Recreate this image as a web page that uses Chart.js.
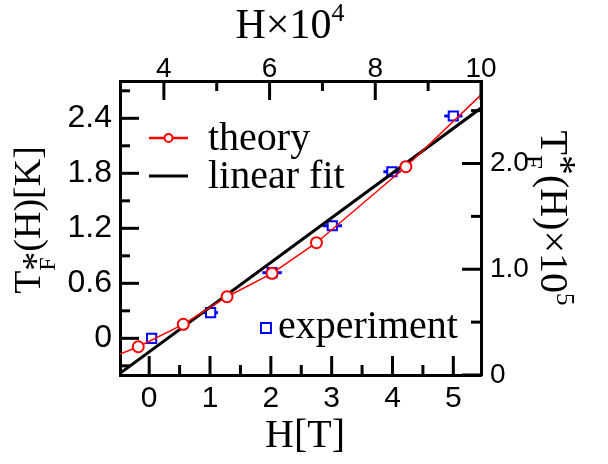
<!DOCTYPE html>
<html lang="en">
<head>
    <meta charset="UTF-8">
    <title>Fermi temperature vs field</title>
    <script src="https://cdn.jsdelivr.net/npm/chart.js"></script>
    <style>
        body { margin: 0; background: #fff; }
        #wrap { width: 608px; height: 464px; }
    </style>
</head>
<body>
<div id="wrap"><canvas id="tfChart" width="608" height="464"></canvas></div>
<script>
    // theory curve (red circles); first and last entries are the line ends without markers
    const theoryH = [-0.48, -0.18, 0.56, 1.28, 2.02, 2.75, 4.22, 5.455];
    const theoryT = [-0.171, -0.092, 0.153, 0.454, 0.709, 1.043, 1.872, 2.656];

    // linear fit (black)
    const fitH = [-0.48, 5.455];
    const fitT = [-0.382, 2.512];

    // experiment (blue squares) with horizontal error in H
    const expH = [0.04, 1.01, 2.02, 3.01, 3.99, 5.0];
    const expT = [0.0, 0.28, 0.716, 1.228, 1.817, 2.425];
    const expErr = [0.05, 0.12, 0.16, 0.16, 0.14, 0.15];

    // tick values
    const hTicks = [0, 1, 2, 3, 4, 5];
    const hMinor = [0.5, 1.5, 2.5, 3.5, 4.5];
    const tTicks = [0, 0.6, 1.2, 1.8, 2.4];
    const tMinor = [-0.3, 0.3, 0.9, 1.5, 2.1, 2.7];
    const t5Ticks = [0, 1.0, 2.0];
    const t5Minor = [0.5, 1.5, 2.5];
    const h4Ticks = [4, 6, 8, 10];
    const h4Minor = [5, 7, 9];

    const serif = '"Liberation Serif", "Times New Roman", serif';
    const sans = '"Liberation Sans", Arial, sans-serif';

    function fixTicks(values) {
        return scale => { scale.ticks = values.map(v => ({ value: v })); };
    }
    function fmt1(v) { return v === 0 ? '0' : v.toFixed(1); }

    // inward major/minor tick marks on all four sides
    const innerTicks = {
        id: 'innerTicks',
        afterDraw(chart) {
            const ctx = chart.ctx, a = chart.chartArea;
            const sets = [
                ['x', hTicks, hMinor, 'bottom'],
                ['x2', h4Ticks, h4Minor, 'top'],
                ['y', tTicks, tMinor, 'left'],
                ['y2', t5Ticks, t5Minor, 'right']
            ];
            ctx.save();
            ctx.strokeStyle = '#000';
            ctx.lineWidth = 3;
            sets.forEach(([id, major, minor, side]) => {
                const s = chart.scales[id];
                const draw = (v, len) => {
                    const p = s.getPixelForValue(v);
                    ctx.beginPath();
                    if (side === 'bottom') { ctx.moveTo(p, a.bottom); ctx.lineTo(p, a.bottom - len); }
                    if (side === 'top') { ctx.moveTo(p, a.top); ctx.lineTo(p, a.top + len); }
                    if (side === 'left') { ctx.moveTo(a.left, p); ctx.lineTo(a.left + len, p); }
                    if (side === 'right') { ctx.moveTo(a.right, p); ctx.lineTo(a.right - len, p); }
                    ctx.stroke();
                };
                major.forEach(v => draw(v, 19));
                minor.forEach(v => draw(v, 10));
            });
            ctx.restore();
        }
    };

    // horizontal error bars of the experiment points
    const errorBars = {
        id: 'errorBars',
        beforeDatasetsDraw(chart) {
            const ctx = chart.ctx, xs = chart.scales.x, ys = chart.scales.y;
            ctx.save();
            ctx.strokeStyle = '#0000ff';
            ctx.lineWidth = 3;
            expH.forEach((h, i) => {
                const y = ys.getPixelForValue(expT[i]);
                ctx.beginPath();
                ctx.moveTo(xs.getPixelForValue(h - expErr[i]), y);
                ctx.lineTo(xs.getPixelForValue(h + expErr[i]), y);
                ctx.stroke();
            });
            ctx.restore();
        }
    };

    // text with stacked super/subscripts, centred on (x, y), optionally rotated
    function richText(ctx, parts, x, y, angle, size) {
        const small = Math.round(size * 0.62);
        ctx.save();
        ctx.translate(x, y);
        ctx.rotate(angle);
        ctx.textBaseline = 'alphabetic';
        ctx.textAlign = 'left';
        const widths = parts.map(p => {
            if (p.t) { ctx.font = size + 'px ' + serif; return ctx.measureText(p.t).width; }
            let w = 0;
            if (p.sup) { ctx.font = (p.supBig ? size : small) + 'px ' + serif; w = Math.max(w, ctx.measureText(p.sup).width); }
            if (p.sub) { ctx.font = small + 'px ' + serif; w = Math.max(w, ctx.measureText(p.sub).width); }
            return w;
        });
        let cx = -widths.reduce((s, w) => s + w, 0) / 2;
        parts.forEach((p, i) => {
            if (p.t) {
                ctx.font = size + 'px ' + serif;
                ctx.fillText(p.t, cx, 0);
            } else {
                if (p.sup) {
                    ctx.font = (p.supBig ? size : small) + 'px ' + serif;
                    const dy = p.supDy !== undefined ? p.supDy : (p.supBig ? size * 0.2 : -size * 0.4);
                    ctx.fillText(p.sup, cx, dy);
                }
                if (p.sub) {
                    ctx.font = small + 'px ' + serif;
                    ctx.fillText(p.sub, cx, size * 0.4);
                }
            }
            cx += widths[i];
        });
        ctx.restore();
    }

    const titlesAndLegend = {
        id: 'titlesAndLegend',
        afterDraw(chart) {
            const ctx = chart.ctx;
            ctx.save();
            ctx.fillStyle = '#000';
            // axis titles
            richText(ctx, [{ t: 'H×10' }, { sup: '4' }], 290, 38, 0, 42);
            richText(ctx, [{ t: 'H[T]' }], 305, 447, 0, 40);
            richText(ctx, [{ t: 'T' }, { sup: '*', supBig: true, sub: 'F' }, { t: '(H)[K]' }], 40, 220, -Math.PI / 2, 38);
            richText(ctx, [{ t: 'T' }, { sup: '*', supBig: true, supDy: -8, sub: 'F' }, { t: '(H)×10' }, { sup: '5' }], 541, 218, Math.PI / 2, 40);

            // legend: theory, linear fit
            ctx.font = '40px ' + serif;
            ctx.textBaseline = 'alphabetic';
            ctx.textAlign = 'left';
            ctx.strokeStyle = '#ff0000';
            ctx.lineWidth = 2.5;
            ctx.beginPath(); ctx.moveTo(149, 138); ctx.lineTo(188, 138); ctx.stroke();
            ctx.fillStyle = '#fff';
            ctx.lineWidth = 2;
            ctx.beginPath(); ctx.arc(168.5, 138, 4, 0, Math.PI * 2); ctx.fill(); ctx.stroke();
            ctx.fillStyle = '#000';
            ctx.fillText('theory', 208, 150);
            ctx.strokeStyle = '#000';
            ctx.lineWidth = 3;
            ctx.beginPath(); ctx.moveTo(149, 176); ctx.lineTo(188, 176); ctx.stroke();
            ctx.fillText('linear fit', 208, 188);

            // legend: experiment
            ctx.strokeStyle = '#0000ff';
            ctx.lineWidth = 2;
            ctx.strokeRect(261, 323, 10, 10);
            ctx.fillText('experiment', 278, 338);
            ctx.restore();
        }
    };

    const ctx = document.getElementById('tfChart').getContext('2d');
    new Chart(ctx, {
        type: 'scatter',
        data: {
            datasets: [
                {
                    label: 'theory',
                    data: theoryH.map((h, i) => ({ x: h, y: theoryT[i] })),
                    showLine: true,
                    borderColor: '#ff0000',
                    borderWidth: 1.5,
                    pointRadius: c => (c.dataIndex === 0 || c.dataIndex === theoryH.length - 1) ? 0 : 5.5,
                    pointBorderWidth: 2,
                    pointBackgroundColor: '#fff',
                    pointBorderColor: '#ff0000',
                    tension: 0,
                    order: 1
                },
                {
                    label: 'linear fit',
                    data: fitH.map((h, i) => ({ x: h, y: fitT[i] })),
                    showLine: true,
                    borderColor: '#000',
                    borderWidth: 3,
                    pointRadius: 0,
                    order: 2
                },
                {
                    label: 'experiment',
                    data: expH.map((h, i) => ({ x: h, y: expT[i] })),
                    pointStyle: 'rect',
                    pointRadius: 6.5,
                    pointBorderWidth: 2,
                    pointBorderColor: '#0000ff',
                    pointBackgroundColor: '#fff',
                    order: 3
                }
            ]
        },
        options: {
            responsive: false,
            animation: false,
            layout: { padding: 0 },
            plugins: {
                legend: { display: false },
                tooltip: { enabled: false }
            },
            scales: {
                x: {
                    type: 'linear', position: 'bottom',
                    min: -0.48, max: 5.455,
                    afterBuildTicks: fixTicks(hTicks),
                    afterFit: s => { s.height = 89; },
                    grid: { display: true, drawOnChartArea: false, drawTicks: false },
                    border: { width: 3, color: '#000' },
                    ticks: { color: '#000', padding: 6, font: { family: sans, size: 30 }, callback: v => String(v) }
                },
                x2: {
                    type: 'linear', position: 'top',
                    min: 3.17, max: 10,
                    afterBuildTicks: fixTicks(h4Ticks),
                    afterFit: s => { s.height = 81; },
                    grid: { display: true, drawOnChartArea: false, drawTicks: false },
                    border: { width: 3, color: '#000' },
                    ticks: { color: '#000', padding: -5, font: { family: sans, size: 28 }, callback: v => String(v) }
                },
                y: {
                    type: 'linear', position: 'left',
                    min: -0.4, max: 2.807,
                    afterBuildTicks: fixTicks(tTicks),
                    afterFit: s => { s.width = 120; },
                    grid: { display: true, drawOnChartArea: false, drawTicks: false },
                    border: { width: 3, color: '#000' },
                    ticks: { color: '#000', padding: 8, font: { family: sans, size: 32 }, callback: fmt1 }
                },
                y2: {
                    type: 'linear', position: 'right',
                    min: 0, max: 2.78,
                    afterBuildTicks: fixTicks(t5Ticks),
                    afterFit: s => { s.width = 127; },
                    grid: { display: true, drawOnChartArea: false, drawTicks: false },
                    border: { width: 3, color: '#000' },
                    ticks: { color: '#000', padding: 9, font: { family: sans, size: 28 }, callback: fmt1 }
                }
            }
        },
        plugins: [innerTicks, errorBars, titlesAndLegend]
    });
</script>
</body>
</html>
